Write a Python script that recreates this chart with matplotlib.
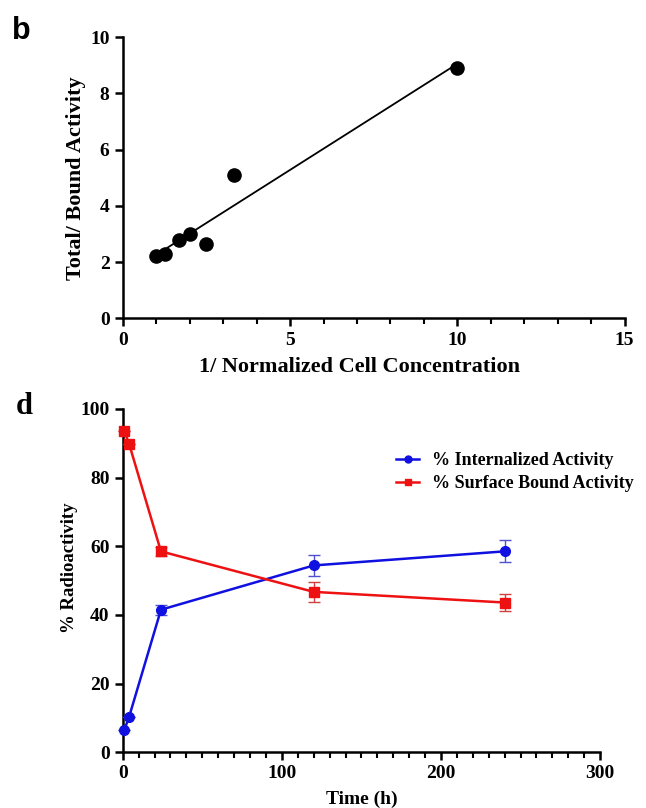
import numpy as np
import matplotlib

matplotlib.use("Agg")
import matplotlib.pyplot as plt
from matplotlib.lines import Line2D
from matplotlib.ticker import MultipleLocator

# panel b: double reciprocal plot
inv_cell_conc = [1.0, 1.25, 1.667, 2.0, 2.5, 3.333, 10.0]
total_bound = [2.2, 2.3, 2.8, 3.0, 2.65, 5.1, 8.9]

# panel d: internalization time course
time_h = [1, 4, 24, 120, 240]
internalized = [6.5, 10.3, 41.5, 54.4, 58.5]
internalized_err = [0.0, 0.0, 1.4, 3.1, 3.2]
surface_bound = [93.5, 89.8, 58.5, 46.7, 43.6]
surface_err = [0.0, 0.0, 1.4, 3.0, 2.4]
series_labels = ["% Internalized Activity", "% Surface Bound Activity"]

BLUE = "#1010e0"
RED = "#ee1111"

plt.rcParams["font.family"] = ["Liberation Serif", "DejaVu Serif"]
plt.rcParams["font.weight"] = "bold"

fig = plt.figure(figsize=(6.46, 8.08), dpi=100)


def style_axes(ax):
    for side in ("top", "right"):
        ax.spines[side].set_visible(False)
    for side in ("left", "bottom"):
        ax.spines[side].set_linewidth(1.8)
    ax.tick_params(which="major", direction="out", length=6, width=1.8, labelsize=14)
    ax.tick_params(which="minor", direction="out", length=4, width=1.5)
    ax.tick_params(axis="y", which="minor", left=False)
    for lab in ax.get_xticklabels() + ax.get_yticklabels():
        lab.set_fontweight("bold")


# --- panel b ---
ax1 = fig.add_axes([0.190, 0.606, 0.777, 0.348])
ax1.scatter(inv_cell_conc, total_bound, s=90, color="black", zorder=3, clip_on=False)
slope, intercept = np.polyfit(inv_cell_conc, total_bound, 1)
xfit = np.array([min(inv_cell_conc), max(inv_cell_conc)])
ax1.plot(xfit, slope * xfit + intercept, color="black", lw=1.3)
ax1.set_xlim(0, 15)
ax1.set_ylim(0, 10)
ax1.xaxis.set_major_locator(MultipleLocator(5))
ax1.xaxis.set_minor_locator(MultipleLocator(1))
ax1.yaxis.set_major_locator(MultipleLocator(2))
style_axes(ax1)
ax1.set_xlabel("1/ Normalized Cell Concentration", fontsize=16, fontweight="bold", labelpad=6)
ax1.xaxis.label.set_x(0.472)
ax1.set_ylabel("Total/ Bound Activity", fontsize=16, fontweight="bold", labelpad=3)
fig.text(0.018, 0.962, "b", fontsize=22, fontweight="bold",
         family=["Liberation Sans", "DejaVu Sans"], va="center")

# --- panel d ---
ax2 = fig.add_axes([0.190, 0.069, 0.739, 0.425])
ax2.errorbar(time_h, internalized, yerr=internalized_err, color=BLUE, marker="o",
             ms=7, lw=1.8, capsize=4, elinewidth=1.0, ecolor="#5050d0",
             zorder=3, clip_on=False)
ax2.errorbar(time_h, surface_bound, yerr=surface_err, color=RED, marker="s",
             ms=7, lw=1.8, capsize=4, elinewidth=1.0, ecolor="#d04040",
             zorder=3, clip_on=False)
ax2.set_xlim(0, 300)
ax2.set_ylim(0, 100)
ax2.xaxis.set_major_locator(MultipleLocator(100))
ax2.xaxis.set_minor_locator(MultipleLocator(10))
ax2.yaxis.set_major_locator(MultipleLocator(20))
style_axes(ax2)
ax2.set_xlabel("Time (h)", fontsize=14, fontweight="bold", labelpad=6)
ax2.set_ylabel("% Radioactivity", fontsize=13.5, fontweight="bold", labelpad=2)
ax2.yaxis.label.set_y(0.536)

handles = [
    Line2D([], [], color=BLUE, marker="o", ms=5, lw=1.8),
    Line2D([], [], color=RED, marker="s", ms=5, lw=1.8),
]
fig.legend(handles, series_labels, loc="upper left",
           bbox_to_anchor=(396 / 646, 1 - 452 / 808), frameon=False,
           handlelength=1.3, handletextpad=0.7, labelspacing=0.35,
           borderpad=0, borderaxespad=0,
           prop={"size": 13, "weight": "bold"})
fig.text(0.025, 0.497, "d", fontsize=22, fontweight="bold", va="center")

fig.savefig("out.png", dpi=100)
